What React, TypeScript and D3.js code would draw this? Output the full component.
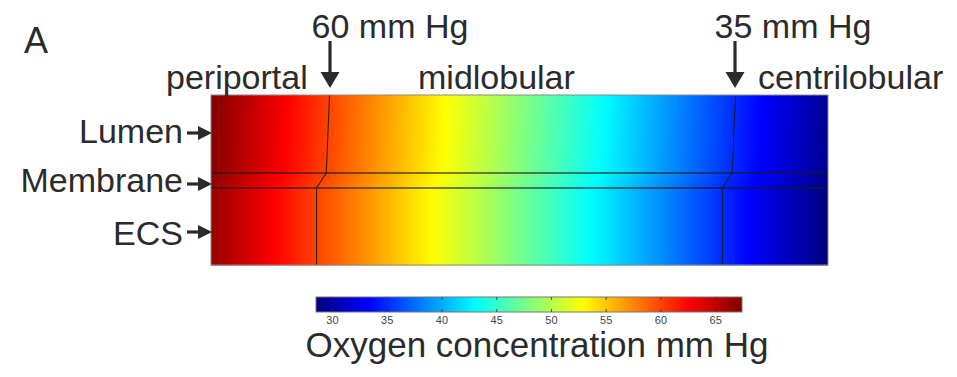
import * as d3 from "d3";
import { useEffect, useRef } from "react";

// relative position along the sinusoid, periportal (0) to centrilobular (1)
const positions = [0, 0.1, 0.2, 0.3, 0.4, 0.5, 0.6, 0.7, 0.8, 0.9, 1];
// oxygen concentration (mm Hg)
const lumenTop = [67.3, 63.5, 59.7, 55.9, 52.1, 48.3, 44.5, 40.7, 36.9, 33.1, 29.3];
const lumenBottom = [67.1, 63.3, 59.5, 55.7, 51.9, 48.1, 44.3, 40.5, 36.7, 32.9, 29.1];
const ecs = [66.5, 62.7, 58.9, 55.1, 51.3, 47.5, 43.7, 39.9, 36.1, 32.3, 28.5];

const contourLevels = [60, 35];
const colorTicks = [30, 35, 40, 45, 50, 55, 60, 65];
const colorRange: [number, number] = [28.5, 67.4];
const jetStops = [0, 0.125, 0.375, 0.625, 0.875, 1];
const jetColors = ["#00007f", "#0000ff", "#00ffff", "#ffff00", "#ff0000", "#7f0000"];

const FONT = "'Liberation Sans', Arial, sans-serif";
const INK = "#2b2b2b";

const App = () => {
  const ref = useRef<SVGSVGElement>(null);

  useEffect(() => {
    const svg = d3.select(ref.current);
    svg.selectAll("*").remove();

    const x0 = 211, x1 = 828;
    const yTop = 95, yLum = 173, yEcs = 188, yBot = 265;

    const x = d3.scaleLinear().domain([0, 1]).range([x0, x1]);
    const color = d3
      .scaleLinear<string>()
      .domain(jetStops.map((s) => colorRange[0] + s * (colorRange[1] - colorRange[0])))
      .range(jetColors)
      .interpolate(d3.interpolateRgb)
      .clamp(true);

    const profileAt = (y: number) => {
      let a = lumenTop, b = lumenBottom, t = 0;
      if (y <= yLum) t = (y - yTop) / (yLum - yTop);
      else if (y < yEcs) { a = lumenBottom; b = ecs; t = (y - yLum) / (yEcs - yLum); }
      else { a = ecs; b = ecs; t = 0; }
      return a.map((v, i) => v + (b[i] - v) * t);
    };

    const defs = svg.append("defs");
    const field = svg.append("g");

    // horizontal strips, each a gradient built from the row's profile
    const strips: [number, number][] = [];
    for (let y = yTop; y < yLum; y += 6) strips.push([y, Math.min(y + 6, yLum)]);
    for (let y = yLum; y < yEcs; y += 1) strips.push([y, y + 1]);
    strips.push([yEcs, yBot]);

    strips.forEach(([ya, yb], i) => {
      const prof = profileAt((ya + yb) / 2);
      const v = d3.scaleLinear().domain(positions).range(prof);
      const grad = defs
        .append("linearGradient")
        .attr("id", `row${i}`)
        .attr("x1", "0%").attr("x2", "100%").attr("y1", "0%").attr("y2", "0%");
      grad
        .selectAll("stop")
        .data(d3.range(0, 101).map((k) => k / 100))
        .join("stop")
        .attr("offset", (p) => `${p * 100}%`)
        .attr("stop-color", (p) => color(v(p)));
      field
        .append("rect")
        .attr("x", x0).attr("y", ya)
        .attr("width", x1 - x0).attr("height", yb - ya + 0.5)
        .attr("fill", `url(#row${i})`);
    });

    // domain boundaries
    [yLum, yEcs].forEach((yy) =>
      svg.append("line")
        .attr("x1", x0).attr("x2", x1).attr("y1", yy).attr("y2", yy)
        .attr("stroke", "#1a1a1a").attr("stroke-opacity", 0.75).attr("stroke-width", 1.6)
    );

    // contour lines
    const line = d3.line<[number, number]>();
    contourLevels.forEach((lvl) => {
      const pts: [number, number][] = [yTop, yLum - 14, yLum, yEcs, yBot].map((yy) => {
        const prof = profileAt(yy);
        const inv = d3.scaleLinear().domain(prof).range(positions);
        return [x(inv(lvl)), yy];
      });
      svg.append("path")
        .attr("d", line(pts))
        .attr("fill", "none")
        .attr("stroke", "#1a1a1a")
        .attr("stroke-opacity", 0.85)
        .attr("stroke-width", 1.1);
    });

    svg.append("rect")
      .attr("x", x0).attr("y", yTop).attr("width", x1 - x0).attr("height", yBot - yTop)
      .attr("fill", "none").attr("stroke", "#8a8a8a").attr("stroke-width", 1);

    // colour bar
    const cb = d3.scaleLinear().domain(colorRange).range([316, 742]);
    const cbY = 297, cbH = 15;
    const cbGrad = defs.append("linearGradient").attr("id", "cbar");
    cbGrad.selectAll("stop")
      .data(d3.range(0, 101).map((k) => k / 100))
      .join("stop")
      .attr("offset", (p) => `${p * 100}%`)
      .attr("stop-color", (p) => color(colorRange[0] + p * (colorRange[1] - colorRange[0])));
    svg.append("rect")
      .attr("x", cb.range()[0]).attr("y", cbY)
      .attr("width", cb.range()[1] - cb.range()[0]).attr("height", cbH)
      .attr("fill", "url(#cbar)").attr("stroke", "#777").attr("stroke-width", 1);
    const tk = svg.append("g");
    colorTicks.forEach((t) => {
      tk.append("line").attr("x1", cb(t)).attr("x2", cb(t)).attr("y1", cbY).attr("y2", cbY + 3)
        .attr("stroke", "#333").attr("stroke-width", 0.8);
      tk.append("line").attr("x1", cb(t)).attr("x2", cb(t)).attr("y1", cbY + cbH - 3).attr("y2", cbY + cbH)
        .attr("stroke", "#333").attr("stroke-width", 0.8);
      tk.append("text").attr("x", cb(t)).attr("y", 323.5)
        .attr("text-anchor", "middle").attr("font-size", 11).attr("font-family", FONT)
        .attr("fill", "#444").text(String(t));
    });

    // labels
    const label = (s: string, xx: number, yy: number, anchor = "start", size = 34) =>
      svg.append("text").attr("x", xx).attr("y", yy).attr("text-anchor", anchor)
        .attr("font-size", size).attr("font-family", FONT).attr("fill", INK).text(s);

    label("A", 24, 53, "start", 36);
    label("60 mm Hg", 390, 38, "middle");
    label("35 mm Hg", 793, 38, "middle");
    label("periportal", 166, 89);
    label("midlobular", 418, 89);
    label("centrilobular", 758, 89);
    label("Lumen", 183, 143, "end");
    label("Membrane", 183, 192, "end");
    label("ECS", 183, 245, "end");
    label("Oxygen concentration mm Hg", 537, 357, "middle", 35);

    // arrows
    const downArrow = (xx: number) => {
      svg.append("line").attr("x1", xx).attr("x2", xx).attr("y1", 41).attr("y2", 74)
        .attr("stroke", INK).attr("stroke-width", 3.2);
      svg.append("path").attr("d", `M${xx - 9.5},72 L${xx + 9.5},72 L${xx},88 Z`).attr("fill", INK);
    };
    contourLevels.forEach((lvl) => {
      const inv = d3.scaleLinear().domain(lumenTop).range(positions);
      downArrow(Math.round(x(inv(lvl))));
    });

    const rightArrow = (yy: number) => {
      svg.append("line").attr("x1", 187).attr("x2", 200).attr("y1", yy).attr("y2", yy)
        .attr("stroke", INK).attr("stroke-width", 3.2);
      svg.append("path").attr("d", `M198,${yy - 7} L212,${yy} L198,${yy + 7} Z`).attr("fill", INK);
    };
    [133, 184, 232].forEach(rightArrow);

    return () => {
      svg.selectAll("*").remove();
    };
  }, []);

  return (
    <svg
      ref={ref}
      width={957}
      height={377}
      style={{ position: "absolute", left: 0, top: 0, background: "#fff" }}
    ></svg>
  );
};

export default App;
